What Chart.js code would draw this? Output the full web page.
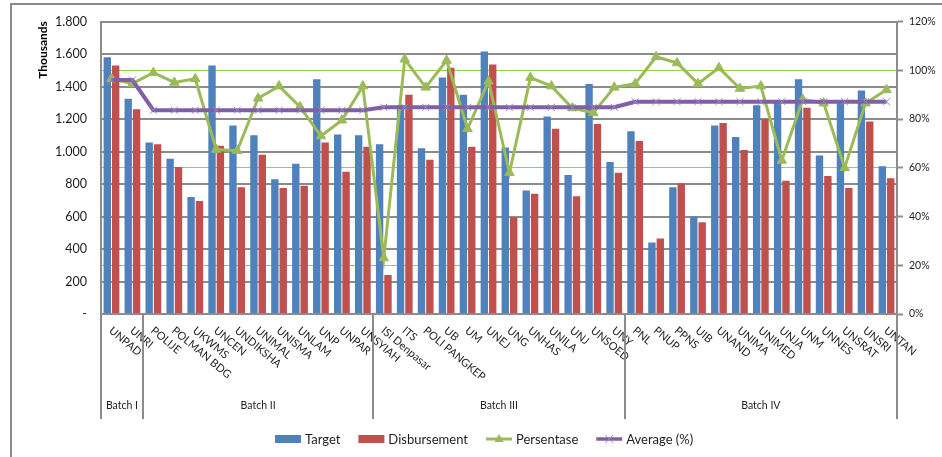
<!DOCTYPE html>
<html>
<head>
<meta charset="utf-8">
<script src="https://cdn.jsdelivr.net/npm/chart.js@4.4.1/dist/chart.umd.min.js"></script>
<style>
  html, body { margin: 0; padding: 0; background: #fff; }
  #wrap { width: 942px; height: 457px; position: relative; }
</style>
</head>
<body>
<div id="wrap"><canvas id="c" width="942" height="457"></canvas></div>
<script>
// Universities (categories), grouped by batch
const labels = ['UNPAD','UNRI','POLIJE','POLMAN BDG','UKWMS','UNCEN','UNDIKSHA','UNIMAL','UNISMA','UNLAM','UNP','UNPAR','UNSYIAH',
  'ISI Denpasar','ITS','POLI PANGKEP','UB','UM','UNEJ','UNG','UNHAS','UNILA','UNJ','UNSOED','UNY',
  'PNL','PNUP','PPNS','UIB','UNAND','UNIMA','UNIMED','UNJA','UNM','UNNES','UNSRAT','UNSRI','UNTAN'];

const batchNames = ['Batch I','Batch II','Batch III','Batch IV'];
const batchSizes = [2, 11, 12, 13];

// Values in thousands
const target = [1580,1325,1055,955,720,1530,1160,1100,830,925,1445,1105,1100,
  1045,1285,1020,1455,1350,1615,1025,760,1215,855,1415,935,
  1125,440,780,600,1160,1090,1285,1305,1445,975,1300,1375,910];
const disbursement = [1530,1260,1045,905,695,1035,780,980,775,790,1055,875,1030,
  240,1350,950,1515,1030,1535,595,740,1140,725,1170,870,
  1065,465,805,565,1175,1010,1200,820,1270,850,775,1185,835];

// Percentages (right axis)
const persentase = [96.5,94.5,99,95,96.5,67.5,67,88.5,93.5,85,73,79.5,93.5,
  23,104.5,93,104,76,95.5,58,97,93.5,84.5,82.5,93,
  94.5,105.5,103,94.5,101,92.5,93.5,63,88,86.5,60,86.5,92];
const averagePct = [96,96,
  83.6,83.6,83.6,83.6,83.6,83.6,83.6,83.6,83.6,83.6,83.6,
  84.8,84.8,84.8,84.8,84.8,84.8,84.8,84.8,84.8,84.8,84.8,84.8,
  87.1,87.1,87.1,87.1,87.1,87.1,87.1,87.1,87.1,87.1,87.1,87.1,87.1];

const BLUE = '#4F81BD', RED = '#C0504D', GREEN = '#9BBB59', PURPLE = '#7F5FA5';
const GRID = '#8c8c8c', TEXT = '#1e1e1e';

function thousandsDot(v) {
  return String(v).replace(/\B(?=(\d{3})+(?!\d))/g, '.');
}

function drawTriangle(ctx, x, y, r, color) {
  ctx.beginPath();
  ctx.moveTo(x, y - r);
  ctx.lineTo(x + r * 0.9, y + r * 0.6);
  ctx.lineTo(x - r * 0.9, y + r * 0.6);
  ctx.closePath();
  ctx.fillStyle = color;
  ctx.fill();
}
function drawX(ctx, x, y, r, color) {
  ctx.beginPath();
  ctx.moveTo(x - r, y - r); ctx.lineTo(x + r, y + r);
  ctx.moveTo(x - r, y + r); ctx.lineTo(x + r, y - r);
  ctx.strokeStyle = color; ctx.lineWidth = 1;
  ctx.stroke();
}

const decorations = {
  id: 'decorations',
  afterDraw(chart) {
    const ctx = chart.ctx;
    const xs = chart.scales.x;
    const area = chart.chartArea;
    ctx.save();

    // outer frame
    ctx.strokeStyle = GRID; ctx.lineWidth = 2;
    ctx.beginPath();
    ctx.moveTo(11, 457); ctx.lineTo(11, 4); ctx.lineTo(942, 4);
    ctx.stroke();

    // unit title of the left axis
    ctx.save();
    ctx.translate(43, 50);
    ctx.rotate(-Math.PI / 2);
    ctx.font = 'bold 12px Lato';
    ctx.fillStyle = '#000';
    ctx.textAlign = 'center'; ctx.textBaseline = 'middle';
    ctx.fillText('Thousands', 0, 0);
    ctx.restore();

    // slanted category labels
    ctx.font = '11px Lato';
    ctx.fillStyle = TEXT;
    ctx.textAlign = 'left'; ctx.textBaseline = 'middle';
    labels.forEach((lab, i) => {
      const x = xs.getPixelForValue(i);
      ctx.save();
      ctx.translate(x - 1, 329);
      ctx.rotate(40 * Math.PI / 180);
      ctx.fillText(lab, 0, 0);
      ctx.restore();
    });

    // batch separators and names
    const step = xs.width / labels.length;
    ctx.strokeStyle = GRID; ctx.lineWidth = 2;
    let start = 0;
    const bounds = [0];
    batchSizes.forEach(n => { start += n; bounds.push(start); });
    bounds.forEach(b => {
      const x = Math.round(xs.left + b * step);
      ctx.beginPath(); ctx.moveTo(x, area.bottom); ctx.lineTo(x, 419); ctx.stroke();
    });
    ctx.font = '10.5px Lato';
    ctx.textAlign = 'center';
    batchNames.forEach((name, k) => {
      const cx = xs.left + (bounds[k] + bounds[k + 1]) / 2 * step;
      ctx.fillText(name, cx, 405.5);
    });

    // legend
    ctx.font = '13px Lato';
    ctx.textAlign = 'left';
    const ly = 439;
    let lx = 275;
    const items = [
      {label: 'Target', kind: 'bar', color: BLUE},
      {label: 'Disbursement', kind: 'bar', color: RED},
      {label: 'Persentase', kind: 'tri', color: GREEN},
      {label: 'Average (%)', kind: 'x', color: PURPLE}
    ];
    items.forEach(it => {
      if (it.kind === 'bar') {
        ctx.fillStyle = it.color;
        ctx.fillRect(lx, ly - 4, 26, 8);
      } else {
        ctx.strokeStyle = it.color;
        ctx.lineWidth = it.kind === 'tri' ? 3 : 3.5;
        ctx.beginPath(); ctx.moveTo(lx, ly); ctx.lineTo(lx + 26, ly); ctx.stroke();
        if (it.kind === 'tri') drawTriangle(ctx, lx + 13, ly, 5, it.color);
        else drawX(ctx, lx + 13, ly, 4, '#9b84c0');
      }
      ctx.fillStyle = TEXT;
      ctx.fillText(it.label, lx + 30, ly + 0.5);
      lx += 30 + ctx.measureText(it.label).width + 18;
    });

    ctx.restore();
  }
};

new Chart(document.getElementById('c'), {
  type: 'bar',
  data: {
    labels: labels,
    datasets: [
      { label: 'Target', data: target, backgroundColor: BLUE, yAxisID: 'y', order: 3,
        categoryPercentage: 0.8, barPercentage: 0.88 },
      { label: 'Disbursement', data: disbursement, backgroundColor: RED, yAxisID: 'y', order: 4,
        categoryPercentage: 0.8, barPercentage: 0.88 },
      { type: 'line', label: 'Persentase', data: persentase, yAxisID: 'y1', order: 2,
        borderColor: GREEN, backgroundColor: GREEN, borderWidth: 3, tension: 0,
        pointStyle: 'triangle', pointRadius: 5.5, pointBorderWidth: 1, pointBorderColor: GREEN,
        pointBackgroundColor: GREEN },
      { type: 'line', label: 'Average (%)', data: averagePct, yAxisID: 'y1', order: 1,
        borderColor: PURPLE, borderWidth: 4, tension: 0,
        pointStyle: 'crossRot', pointRadius: 5, pointBorderWidth: 1, pointBorderColor: '#9b84c0' }
    ]
  },
  options: {
    responsive: false,
    animation: false,
    devicePixelRatio: 1,
    layout: { padding: { top: 17, left: 0, right: 0, bottom: 0 } },
    plugins: { legend: { display: false }, tooltip: { enabled: false }, title: { display: false } },
    scales: {
      x: {
        offset: true,
        grid: { display: false },
        border: { display: true, color: GRID, width: 2 },
        ticks: { display: false },
        afterFit(s) { s.height = 143; }
      },
      y: {
        position: 'left',
        min: 0, max: 1800,
        ticks: { stepSize: 200, padding: 14, color: TEXT, font: { family: 'Lato', size: 12.5 },
          callback: v => v === 0 ? '-' : thousandsDot(v) },
        grid: { color: GRID, lineWidth: 2, drawTicks: false },
        border: { display: true, color: GRID, width: 2 },
        afterFit(s) { s.width = 101; }
      },
      y1: {
        position: 'right',
        min: 0, max: 120,
        ticks: { stepSize: 20, padding: 6, color: TEXT, font: { family: 'Lato', size: 10.5 },
          callback: v => v + '%' },
        grid: {
          z: -1,
          drawTicks: true, tickLength: 6, tickWidth: 2, tickColor: GRID,
          lineWidth: 1,
          color: c => ([0, 40, 80, 120].includes(c.tick && c.tick.value) ? 'rgba(0,0,0,0)' : '#92D050')
        },
        border: { display: true, color: GRID, width: 2 },
        afterFit(s) { s.width = 45; }
      }
    }
  },
  plugins: [decorations]
});
</script>
</body>
</html>
